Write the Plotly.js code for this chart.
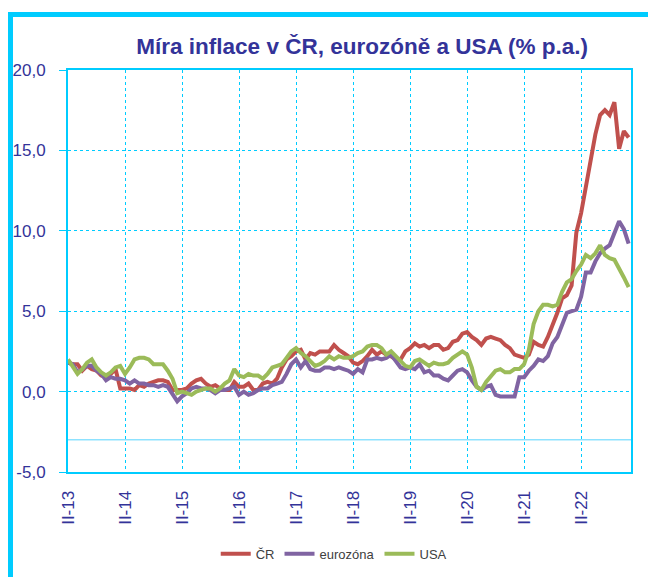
<!DOCTYPE html>
<html>
<head>
<meta charset="utf-8">
<script src="https://cdn.plot.ly/plotly-3.0.1.min.js"></script>
<style>
  html, body { margin: 0; padding: 0; background: #ffffff; }
  #wrap { position: relative; width: 648px; height: 577px; overflow: hidden; }
  #chart { position: absolute; left: 0; top: 0; width: 648px; height: 577px; }
  #frame { position: absolute; left: 8px; top: 12px; width: 660px; height: 600px;
           border-left: 5px solid #00CCFF; border-top: 5px solid #00CCFF; pointer-events: none; }
</style>
</head>
<body>
<div id="wrap">
  <div id="chart"></div>
  <div id="frame"></div>
</div>
<script>
// Monthly y/y inflation, Feb 2013 – Dec 2022
const seriesNames = ['ČR', 'eurozóna', 'USA'];

const cz = [
  1.8, 1.7, 1.7, 1.3, 1.6, 1.4, 1.3, 1.0, 0.9, 1.1, 1.4,
  0.2, 0.2, 0.2, 0.1, 0.4, 0.3, 0.5, 0.6, 0.7, 0.7, 0.6, 0.1,
  0.1, 0.1, 0.2, 0.5, 0.7, 0.8, 0.5, 0.3, 0.4, 0.2, 0.1, 0.1,
  0.6, 0.3, 0.3, 0.5, 0.1, 0.1, 0.5, 0.6, 0.5, 0.8, 1.5, 2.0,
  2.2, 2.5, 2.6, 2.0, 2.4, 2.3, 2.5, 2.5, 2.5, 2.9, 2.6, 2.4,
  2.2, 1.8, 1.7, 1.9, 2.2, 2.6, 2.3, 2.5, 2.3, 2.2, 2.0, 2.0,
  2.5, 2.7, 3.0, 2.8, 2.9, 2.7, 2.9, 2.9, 2.6, 2.7, 3.1, 3.2,
  3.6, 3.7, 3.4, 3.2, 2.9, 3.3, 3.4, 3.3, 3.2, 2.9, 2.7, 2.3,
  2.2, 2.1, 2.3, 3.1, 2.9, 2.8, 3.4, 4.1, 4.9, 5.8, 6.0, 6.6,
  9.9, 11.1, 12.7, 14.2, 16.0, 17.2, 17.5, 17.2, 18.0, 15.1, 16.2, 15.8
];

const ez = [
  1.8, 1.7, 1.2, 1.4, 1.6, 1.6, 1.3, 1.1, 0.7, 0.9, 0.8,
  0.8, 0.7, 0.5, 0.7, 0.5, 0.5, 0.4, 0.4, 0.3, 0.4, 0.3, -0.2,
  -0.6, -0.3, -0.1, 0.2, 0.3, 0.2, 0.2, 0.1, -0.1, 0.1, 0.1, 0.2,
  0.3, -0.2, 0.0, -0.2, -0.1, 0.1, 0.2, 0.2, 0.4, 0.5, 0.6, 1.1,
  1.7, 2.0, 1.5, 1.9, 1.4, 1.3, 1.3, 1.5, 1.5, 1.4, 1.5, 1.4,
  1.3, 1.1, 1.4, 1.2, 2.0, 2.0, 2.1, 2.0, 2.1, 2.3, 1.9, 1.5,
  1.4, 1.5, 1.4, 1.7, 1.2, 1.3, 1.0, 1.0, 0.8, 0.7, 1.0, 1.3,
  1.4, 1.2, 0.7, 0.3, 0.1, 0.3, 0.4, -0.2, -0.3, -0.3, -0.3, -0.3,
  0.9, 0.9, 1.3, 1.6, 2.0, 1.9, 2.2, 3.0, 3.4, 4.1, 4.9, 5.0,
  5.1, 5.9, 7.4, 7.4, 8.1, 8.6, 8.9, 9.1, 9.9, 10.6, 10.1, 9.2
];

const us = [
  2.0, 1.5, 1.1, 1.4, 1.8, 2.0, 1.5, 1.2, 1.0, 1.2, 1.5,
  1.6, 1.1, 1.5, 2.0, 2.1, 2.1, 2.0, 1.7, 1.7, 1.7, 1.3, 0.8,
  -0.1, 0.0, -0.1, -0.2, 0.0, 0.1, 0.2, 0.2, 0.0, 0.2, 0.5, 0.7,
  1.4, 1.0, 0.9, 1.1, 1.0, 1.0, 0.8, 1.1, 1.5, 1.6, 1.7, 2.1,
  2.5, 2.7, 2.4, 2.2, 1.9, 1.6, 1.7, 1.9, 2.2, 2.0, 2.2, 2.1,
  2.1, 2.2, 2.4, 2.5, 2.8, 2.9, 2.9, 2.7, 2.3, 2.5, 2.2, 1.9,
  1.6, 1.5, 1.9, 2.0, 1.8, 1.6, 1.8, 1.7, 1.7, 1.8, 2.1, 2.3,
  2.5, 2.3, 1.5, 0.3, 0.1, 0.6, 1.0, 1.3, 1.4, 1.2, 1.2, 1.4,
  1.4, 1.7, 2.6, 4.2, 5.0, 5.4, 5.4, 5.3, 5.4, 6.2, 6.8, 7.0,
  7.5, 7.9, 8.5, 8.3, 8.6, 9.1, 8.5, 8.3, 8.2, 7.7, 7.1, 6.5
];

const xTickLabels = ['II-13','II-14','II-15','II-16','II-17','II-18','II-19','II-20','II-21','II-22'];
const yTickValues = [-5, 0, 5, 10, 15, 20];
const yTickLabels = ['-5,0', '0,0', '5,0', '10,0', '15,0', '20,0'];
const refLineValue = -3;

const colors = ['#C0504D', '#8064A2', '#9BBB59'];
const monthIdx = cz.map((_, i) => i);
const xTickVals = xTickLabels.map((_, i) => i * 12);

const traces = [cz, ez, us].map((vals, k) => ({
  x: monthIdx,
  y: vals,
  type: 'scatter',
  mode: 'lines',
  name: seriesNames[k],
  line: { color: colors[k], width: 4 }
}));

const cyan = '#00CCFF';
const gridCyan = '#00CCFF';
const labelColor = '#333399';

const layout = {
  width: 648,
  height: 577,
  margin: { l: 68, r: 17, t: 70, b: 105, autoexpand: false },
  paper_bgcolor: '#ffffff',
  plot_bgcolor: '#ffffff',
  title: {
    text: '<b>Míra inflace v ČR, eurozóně a USA (% p.a.)</b>',
    font: { family: 'Liberation Sans, Arial, sans-serif', size: 22.5, color: '#333399' },
    x: 0.559, xanchor: 'center',
    y: 0.92, yanchor: 'middle'
  },
  xaxis: {
    range: [0, 118.5],
    tickvals: xTickVals,
    ticktext: xTickLabels,
    tickangle: -90,
    tickfont: { family: 'Liberation Sans, Arial, sans-serif', size: 17, color: labelColor },
    ticks: '',
    showgrid: true,
    gridcolor: gridCyan,
    gridwidth: 1,
    griddash: 'dot',
    showline: true,
    linecolor: cyan,
    linewidth: 2,
    mirror: true,
    zeroline: false,
    ticklabelstandoff: 10,
    automargin: false,
    fixedrange: true
  },
  yaxis: {
    range: [-5, 20],
    tickvals: yTickValues,
    ticktext: yTickLabels,
    tickfont: { family: 'Liberation Sans, Arial, sans-serif', size: 17, color: labelColor },
    ticks: 'outside',
    ticklen: 7,
    tickcolor: cyan,
    tickwidth: 1,
    showgrid: true,
    gridcolor: gridCyan,
    gridwidth: 1,
    griddash: 'dot',
    showline: true,
    linecolor: cyan,
    linewidth: 2,
    mirror: true,
    zeroline: false,
    ticklabelstandoff: 10,
    automargin: false,
    fixedrange: true
  },
  shapes: [{
    type: 'line', xref: 'paper', yref: 'y',
    x0: 0, x1: 1, y0: refLineValue, y1: refLineValue,
    line: { color: '#55D4FF', width: 1 },
    layer: 'below'
  }],
  showlegend: true,
  legend: {
    orientation: 'h',
    xref: 'paper',
    x: 0.472, xanchor: 'center',
    yref: 'container',
    y: 0.04, yanchor: 'middle',
    font: { family: 'Liberation Sans, Arial, sans-serif', size: 13, color: '#404040' },
    bgcolor: 'rgba(0,0,0,0)',
    itemwidth: 30
  }
};

Plotly.newPlot('chart', traces, layout, { displayModeBar: false, staticPlot: true });
</script>
</body>
</html>
